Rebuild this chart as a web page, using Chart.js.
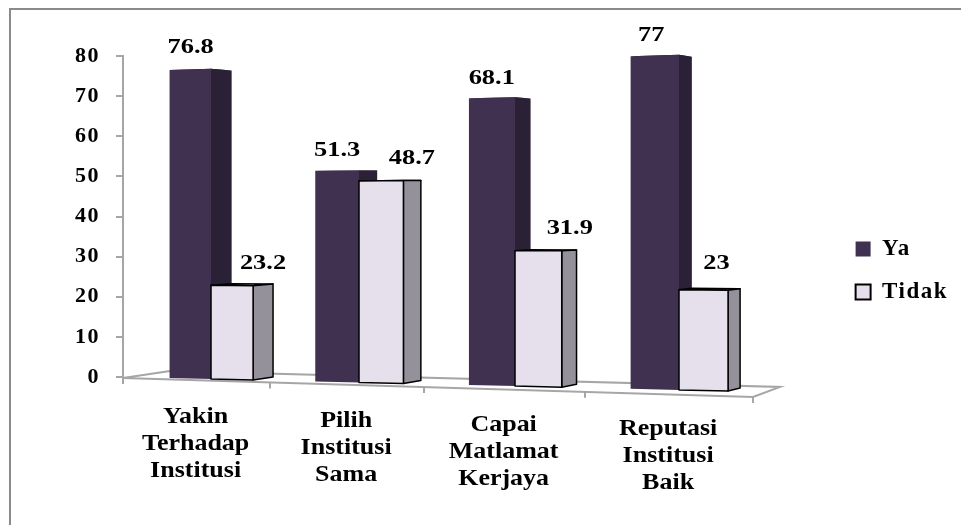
<!DOCTYPE html>
<html>
<head>
<meta charset="utf-8">
<script src="https://cdn.jsdelivr.net/npm/chart.js@4/dist/chart.umd.js"></script>
<style>
  html, body { margin: 0; padding: 0; background: #fff; }
  #wrap { position: relative; width: 961px; height: 525px; overflow: hidden; }
  #frame { position: absolute; left: 9px; top: 8px; right: -5px; bottom: -5px; border-top: 2px solid #8a8a8a; border-left: 2px solid #8a8a8a; }
  #chart { position: absolute; left: 0; top: 0; }
</style>
</head>
<body>
<div id="wrap">
  <div id="frame"></div>
  <canvas id="chart" width="961" height="525"></canvas>
</div>
<script>
const categories = [
  ["Yakin", "Terhadap", "Institusi"],
  ["Pilih", "Institusi", "Sama"],
  ["Capai", "Matlamat", "Kerjaya"],
  ["Reputasi", "Institusi", "Baik"],
];
const ya = [76.8, 51.3, 68.1, 77];
const tidak = [23.2, 48.7, 31.9, 23];
const yTicks = [0, 10, 20, 30, 40, 50, 60, 70, 80];

const FONT = "'Liberation Serif', 'Times New Roman', serif";
const AXIS_GREY = "#a6a6a6";

// the picture is a slightly rotated 3D column chart, so the scale pixels
// are pushed through this small perspective before drawing
const floorX = (t) => 123 + 143.5 * t + 3.5 * t * t;
const barX = (t) => 140 + 140 * t + 4 * t * t;
const barBase = (x) => 378 + 0.0233 * (x - 168);
const barUnit = (x) => 4.01 + 0.00067 * (x - 168);
const sideDepth = (x) => 20 - ((x - 250) * 8) / 480;

function floorPoint(t, d) {
  const x = floorX(t);
  return [x + d * (47 - 5 * t), 378 + 0.03 * (x - 123) + d * (-7 - 0.75 * t)];
}

function poly(ctx, pts) {
  ctx.beginPath();
  pts.forEach((p, i) => (i ? ctx.lineTo(p[0], p[1]) : ctx.moveTo(p[0], p[1])));
  ctx.closePath();
}

// the reference text is wider than the font, so stretch it sideways
function wideText(ctx, text, x, y, sx) {
  ctx.save();
  ctx.translate(x, y);
  ctx.scale(sx, 1);
  ctx.fillText(text, 0, 0);
  ctx.restore();
}

function drawFloor(chart) {
  const ctx = chart.ctx;
  const n = categories.length;
  ctx.save();
  ctx.strokeStyle = AXIS_GREY;
  ctx.lineWidth = 2;
  const corners = [floorPoint(0, 0), floorPoint(0, 1), floorPoint(n, 1), floorPoint(n, 0)];
  poly(ctx, corners);
  ctx.stroke();
  for (let t = 0; t <= n; t++) {
    const p = floorPoint(t, 0);
    ctx.beginPath();
    ctx.moveTo(p[0], p[1]);
    ctx.lineTo(p[0], p[1] + 6);
    ctx.stroke();
  }
  ctx.restore();
}

function drawBar3d(chart, el, value, style) {
  const ctx = chart.ctx;
  const area = chart.chartArea;
  const cat = chart.scales.x.width / categories.length;
  const x0 = barX((el.x - el.width / 2 - area.left) / cat);
  const x1 = barX((el.x + el.width / 2 - area.left) / cat);

  const front = (x) => [barBase(x), barBase(x) - value * barUnit(x)];
  const back = (x) => [barBase(x) - 3, barBase(x) - 3 - value * barUnit(x) * 0.985];
  const d0 = sideDepth(x0);
  const d1 = sideDepth(x1);

  const top = [[x0, front(x0)[1]], [x1, front(x1)[1]], [x1 + d1, back(x1)[1]], [x0 + d0, back(x0)[1]]];
  const side = [[x1, front(x1)[1]], [x1 + d1, back(x1)[1]], [x1 + d1, back(x1)[0]], [x1, front(x1)[0]]];
  const face = [[x0, front(x0)[1]], [x1, front(x1)[1]], [x1, front(x1)[0]], [x0, front(x0)[0]]];

  ctx.save();
  ctx.lineJoin = "round";
  ctx.lineWidth = 1.5;
  [[top, style.top], [side, style.side], [face, style.face]].forEach(([pts, fill]) => {
    poly(ctx, pts);
    ctx.fillStyle = fill;
    ctx.fill();
    if (style.edge) {
      ctx.strokeStyle = style.edge;
      ctx.stroke();
    }
  });
  ctx.restore();
  return { left: x0, right: x1 + d1, top: front(x0)[1] };
}

const barStyles = [
  { face: "#403151", side: "#2a2136", top: "#2a2136" },
  { face: "#e6e0ec", side: "#94919b", top: "#e6e0ec", edge: "#000" },
];
const labelDx = [[-10, -9, -8, -10], [21, 22, 24, 7]];
const labelDy = [[23, 20, 20, 21], [22, 23, 22, 26]];

const bar3d = {
  id: "bar3d",
  beforeLayout(chart) {
    chart.ctx.letterSpacing = "1.5px";
  },
  beforeDraw(chart) {
    chart.ctx.letterSpacing = "1.5px";
  },
  beforeDatasetDraw() {
    return false;
  },
  beforeDatasetsDraw(chart) {
    drawFloor(chart);
    const ctx = chart.ctx;
    const tops = [];
    chart.data.datasets.forEach((ds, i) => {
      chart.getDatasetMeta(i).data.forEach((el, j) => {
        const box = drawBar3d(chart, el, ds.data[j], barStyles[i]);
        tops.push({
          text: String(ds.data[j]),
          x: (box.left + box.right) / 2 + labelDx[i][j],
          y: box.top - labelDy[i][j],
        });
      });
    });
    ctx.save();
    ctx.letterSpacing = "0px";
    ctx.fillStyle = "#000";
    ctx.font = "bold 22px " + FONT;
    ctx.textAlign = "center";
    ctx.textBaseline = "middle";
    tops.forEach((l) => wideText(ctx, l.text, l.x, l.y, 1.2));

    // category labels follow the slope of the floor
    ctx.font = "bold 23px " + FONT;
    categories.forEach((lines, i) => {
      const x = floorX(i + 0.5);
      lines.forEach((line, k) => {
        wideText(ctx, line, x, 417 + 0.025 * (x - 197) + k * 27, 1.13);
      });
    });
    ctx.restore();
  },
};

new Chart(document.getElementById("chart"), {
  type: "bar",
  data: {
    labels: categories,
    datasets: [
      { label: "Ya", data: ya, backgroundColor: "#403151", borderColor: "#403151", borderWidth: 0 },
      { label: "Tidak", data: tidak, backgroundColor: "#e6e0ec", borderColor: "#000", borderWidth: 2 },
    ],
  },
  options: {
    responsive: false,
    animation: false,
    categoryPercentage: 0.58,
    barPercentage: 1,
    layout: { padding: { top: 56, bottom: 40, left: 0, right: 3 } },
    scales: {
      x: {
        grid: { display: false },
        border: { display: false },
        ticks: { display: false },
        afterFit(scale) {
          scale.height = 108;
          scale.paddingLeft = 0;
          scale.paddingRight = 0;
        },
      },
      y: {
        min: 0,
        max: 80,
        afterBuildTicks(scale) {
          scale.ticks = yTicks.map((v) => ({ value: v }));
        },
        afterFit(scale) {
          scale.width = 123;
          scale.paddingTop = 0;
          scale.paddingBottom = 0;
        },
        grid: { drawOnChartArea: false, color: AXIS_GREY, lineWidth: 2, tickLength: 7 },
        border: { color: AXIS_GREY, width: 2 },
        ticks: { color: "#000", padding: 16, font: { family: FONT, size: 22, weight: "bold" } },
      },
    },
    plugins: {
      tooltip: { enabled: false },
      legend: {
        position: "right",
        labels: {
          color: "#000",
          boxWidth: 15,
          boxHeight: 15,
          padding: 20,
          font: { family: FONT, size: 23, weight: "bold" },
        },
      },
    },
  },
  plugins: [bar3d],
});
</script>
</body>
</html>
